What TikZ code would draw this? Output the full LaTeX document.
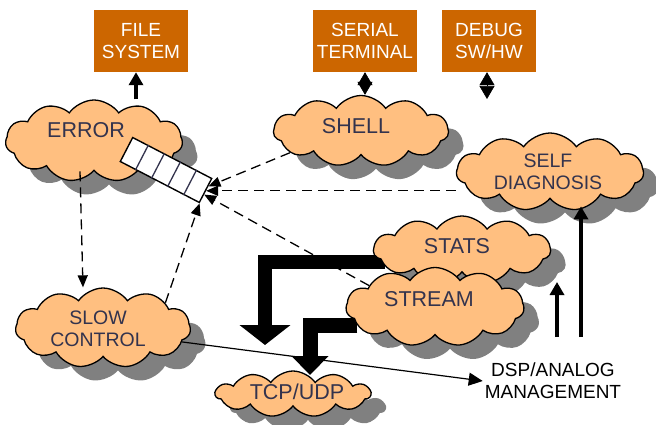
\documentclass[tikz,border=0pt]{standalone}
\usepackage{fontspec}
\setmainfont{Liberation Sans}
\usetikzlibrary{shapes.symbols,shadows,arrows.meta,calc}
\definecolor{boxc}{HTML}{CC6600}
\definecolor{cloudc}{HTML}{FFBF80}
\definecolor{txtc}{HTML}{33334D}
\definecolor{shadc}{HTML}{808080}
\pgfdeclarelayer{bg}
\pgfsetlayers{bg,main}
\begin{document}
\begin{tikzpicture}[x=1pt,y=-1pt,
  every node/.style={font=\fontsize{19}{21.5}\selectfont},
  ibox/.style={rectangle, fill=boxc, text=white, align=center, minimum width=94pt, minimum height=62pt, inner sep=0pt},
  cl/.style={cloud, cloud puffs=11, cloud puff arc=110, cloud ignores aspect, draw=black, line width=1.3pt, fill=cloudc, inner sep=0pt,
     drop shadow={shadow xshift=15pt, shadow yshift=-14pt, opacity=1, fill=shadc}},
  ctext/.style={text=txtc, align=center, inner sep=0pt},
  bigt/.style={font=\fontsize{21.5}{24}\selectfont},
  smt/.style={font=\fontsize{19.5}{22}\selectfont},
  dsh/.style={draw, line width=1.3pt, dash pattern=on 10pt off 6pt, -{Triangle[width=10pt,length=12pt]}},
  thin/.style={draw, line width=1.2pt, -{Triangle[width=13pt,length=14pt]}},
  vup/.style={draw, line width=4.5pt, -{Triangle[width=14pt,length=13pt]}},
  dia/.style={draw, line width=0.6pt, {Triangle[width=15pt,length=13pt]}-{Triangle[width=15pt,length=13pt]}},
  fat/.style={draw, line join=miter}
]
\useasboundingbox (0,0) rectangle (656,425);

% boxes
\node[ibox] (file) at (141,41) {FILE\\SYSTEM};
\node[ibox, minimum width=104pt] (serial) at (365,41) {SERIAL\\TERMINAL};
\node[ibox] (debug) at (489,41) {DEBUG\\SW/HW};

% clouds
\node[cl, minimum width=177pt, minimum height=82pt] (error) at (94,141) {};
\node[ctext, bigt] (errorT) at (86,130) {ERROR};
\node[cl, minimum width=175pt, minimum height=71pt] (shell) at (361,131) {};
\node[ctext, bigt] (shellT) at (356,126) {SHELL};
\node[cl, minimum width=187pt, minimum height=78pt] (self) at (550,172) {};
\node[ctext, smt] (selfT) at (548,172) {SELF\\DIAGNOSIS};
\node[cl, minimum width=177pt, minimum height=68pt] (stats) at (462,250) {};
\node[ctext, bigt] (statsT) at (457,246) {STATS};
\node[cl, minimum width=178pt, minimum height=79pt] (stream) at (435,307) {};
\node[ctext, bigt] (streamT) at (429,299) {STREAM};
\node[cl, minimum width=175pt, minimum height=80pt] (slow) at (103,328) {};
\node[ctext, smt] (slowT) at (98,329) {SLOW\\CONTROL};
\node[cl, minimum width=155pt, minimum height=46pt] (tcp) at (293,394) {};
\node[ctext, bigt] (tcpT) at (297,392) {TCP/UDP};

\node[align=center, inner sep=2pt, font=\fontsize{19}{22}\selectfont] (dsp) at (553,381) {DSP/ANALOG\\MANAGEMENT};

% queue
\node[draw=black, line width=1.4pt, fill=white, rectangle, minimum width=89pt, minimum height=27pt, inner sep=0pt, rotate=-27.4] (queue) at (166,170) {};
\foreach \i in {1,...,4}
  \draw[draw=txtc, line width=1.3pt] ($(queue.north west)!\i/5!(queue.north east)$) -- ($(queue.south west)!\i/5!(queue.south east)$);

% connectors
\draw[vup, line width=4pt] ([xshift=-5pt]file.south |- error.north) -- ([xshift=-5pt]file.south);
\draw[dia] (serial.south) -- (serial.south |- shell.north);
\coordinate (dbgend) at (487,99);
\draw[dia] ([xshift=-2pt]debug.south) -- (dbgend);

\draw[dsh] (shell.197) -- ($(queue.east)!0.35!(queue.north east)$);
\draw[dsh] (queue.east -| self.west) -- (queue.east);
\draw[dsh] (slow.22) -- (queue.south east);
\draw[dsh] ([xshift=-14pt]error.south) -- ([xshift=-20pt]slow.north);

\begin{pgfonlayer}{bg}
\draw[dash pattern=on 10pt off 6pt, line width=1.3pt, -{Triangle[width=10pt,length=12pt]}] (stream.162) -- ($(queue.east)!0.3!(queue.south east)$);
\coordinate (c1) at (265,262);
\coordinate (tk1) at (265,345);
\draw[fat, line width=14pt, -{Triangle[width=50pt,length=20pt]}] ([xshift=12pt]c1 -| stats.west) -- (c1) -- (tk1);
\coordinate (c2) at (310,325.5);
\coordinate (tk2) at (310,375);
\draw[fat, line width=15pt, -{Triangle[width=36pt,length=19pt]}] ([xshift=12pt]c2 -| stream.west) -- (c2) -- (tk2);
\end{pgfonlayer}

\draw[thin] (slow.-10) -- (dsp.west);

\coordinate (a1s) at (557,337);
\coordinate (a2s) at (581,337);
\draw[vup] (a1s) -- (a1s |- 0,282);
\draw[vup] (a2s) -- ([yshift=-7pt]self.south -| a2s);
\end{tikzpicture}
\end{document}
